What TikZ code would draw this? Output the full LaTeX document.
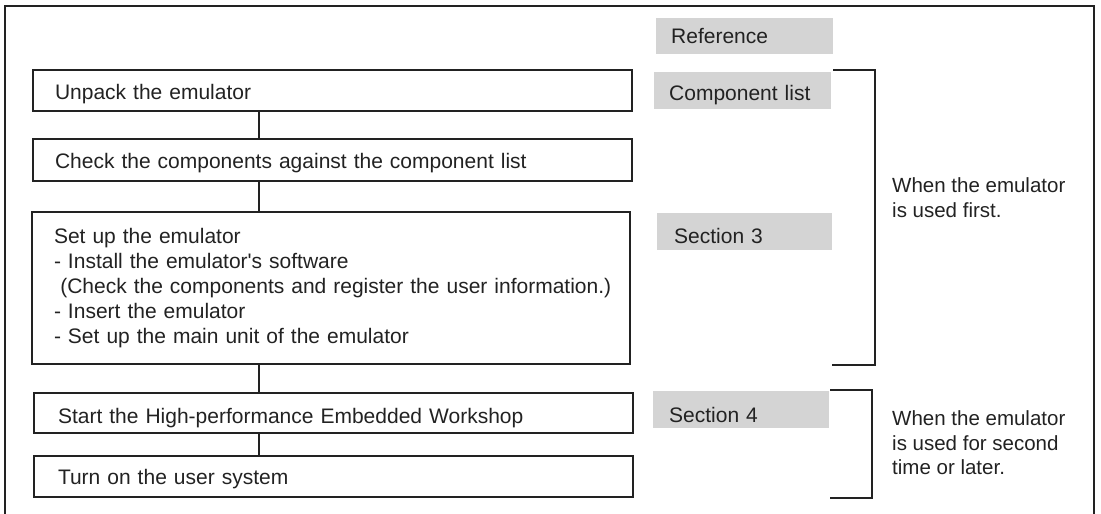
\documentclass[tikz,border=0pt]{standalone}
\usepackage{fontspec}
\setmainfont{Liberation Sans}
\definecolor{ink}{HTML}{222222}
\definecolor{shade}{HTML}{D4D4D4}
\begin{document}
\begin{tikzpicture}[x=1pt,y=-1pt,
  every node/.style={font=\fontsize{21}{25}\selectfont, text=ink},
  stepbox/.style={draw=ink, line width=2pt, anchor=north west, align=left,
    inner xsep=22pt, inner ysep=0pt, text width=555pt},
  gbox/.style={fill=shade, anchor=north west, align=left,
    inner xsep=15pt, inner ysep=0pt, text width=147pt},
  link/.style={draw=ink, line width=2pt},
  bracket/.style={draw=ink, line width=2pt},
  frame/.style={draw=ink, line width=2pt},
  note/.style={anchor=west, align=left, inner sep=0pt}
]
\useasboundingbox (0,0) rectangle (1101,514);
\draw[frame] (5,520) -- (5,6) -- (1094,6) -- (1094,520);

\node[stepbox, text height=29pt, text depth=12pt] (unpack) at (32,69) {Unpack the emulator};
\node[stepbox, text height=29pt, text depth=13pt] (check) at (32,138) {Check the components against the component list};
\node[stepbox, minimum height=152pt, text width=554pt, inner xsep=22pt] (setup) at (31,211)
  {Set up the emulator\\
   - Install the emulator\textquotesingle s software\\
   \hspace*{0.3em}\mbox{(Check the components and register the user information.)}\\
   - Insert the emulator\\
   - Set up the main unit of the emulator};
\node[stepbox, text height=30pt, text depth=10pt, inner xsep=24pt, text width=551pt] (start) at (33,392) {Start the High-performance Embedded Workshop};
\node[stepbox, text height=28pt, text depth=13pt, inner xsep=24pt, text width=551pt] (turn) at (33,455) {Turn on the user system};

\coordinate (cx) at (259,0);
\draw[link] (unpack.south -| cx) -- (check.north -| cx);
\draw[link] (check.south -| cx) -- (setup.north -| cx);
\draw[link] (setup.south -| cx) -- (start.north -| cx);
\draw[link] (start.south -| cx) -- (turn.north -| cx);

\node[gbox, text height=25pt, text depth=11pt] (ref) at (656,18) {Reference};
\node[gbox, text height=28pt, text depth=9pt] (comp) at (654,72) {Component list};
\node[gbox, text height=30pt, text depth=7pt, inner xsep=17pt, text width=141pt] (sec3) at (657,213) {Section 3};
\node[gbox, text height=31pt, text depth=6pt, inner xsep=16pt, text width=144pt] (sec4) at (653,391) {Section 4};

\coordinate (b1a) at (833,70);
\coordinate (b1b) at (875,70);
\coordinate (b1c) at (875,365);
\coordinate (b1d) at (832,365);
\draw[bracket] (b1a) -- (b1b) -- (b1c) -- (b1d);
\coordinate (b2a) at (830,390);
\coordinate (b2b) at (872,390);
\coordinate (b2c) at (872,498);
\coordinate (b2d) at (830,498);
\draw[bracket] (b2a) -- (b2b) -- (b2c) -- (b2d);

\node[note, font=\fontsize{20.5}{25}\selectfont] (first) at (892,198) {When the emulator\\is used first.};
\node[note, font=\fontsize{20.5}{24.5}\selectfont] (later) at (892,443) {When the emulator\\is used for second\\time or later.};
\end{tikzpicture}
\end{document}
